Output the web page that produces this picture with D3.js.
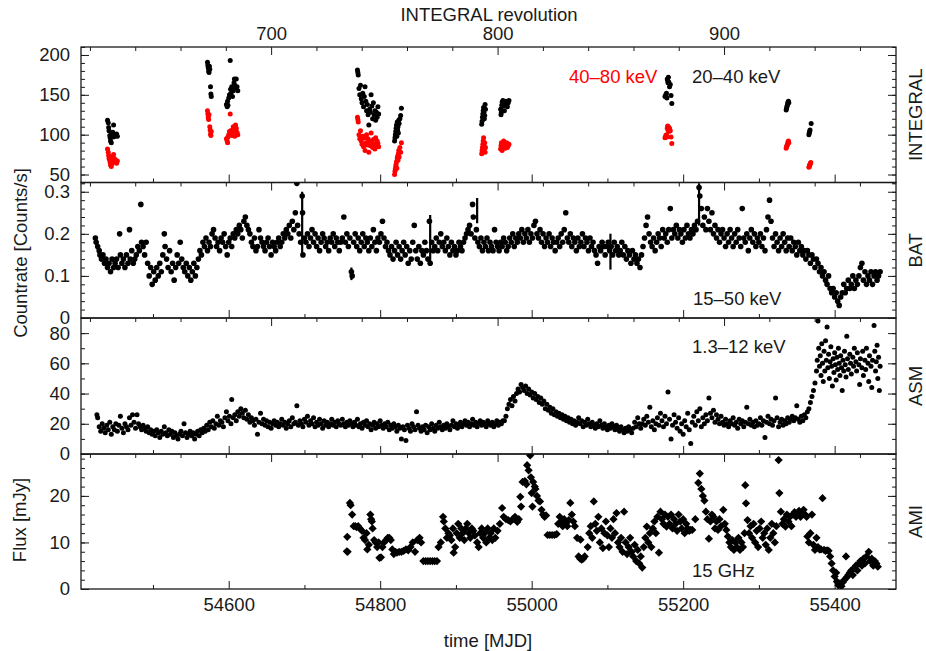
<!DOCTYPE html>
<html><head><meta charset="utf-8">
<script src="https://cdn.jsdelivr.net/npm/d3@7"></script>
<style>body{margin:0;background:#fff}text{font-family:"Liberation Sans",Arial,Helvetica,sans-serif}</style>
</head><body><svg id="c" width="926" height="651"></svg>
<script>
// ---------------- DATA ----------------
// INTEGRAL 20-40 keV (black) [MJD, counts/s]
const integralSoft = [[54440,118],[54441,115],[54441.5,109],[54442,105],[54443,99],[54443.5,96],[54444,92],[54445,90],[54446,100],[54447,103],[54447.5,97],[54448,112],[54449,100],[54450,98],[54451,99],[54452,101],[54453,98],
[54572,191],[54572.5,187],[54573,184],[54573.5,180],[54574,178],[54574.5,186],[54575,182],[54576,160],[54576.5,151],[54577,148],
[54597,138],[54598,135],[54598.5,142],[54599,137],[54600,146],[54601,150],[54602,193],[54602.5,157],[54603,152],[54604,160],[54605,148],[54606,155],[54607,165],[54607.5,170],[54608,162],[54609,158],[54610,170],[54611,160],[54612,155],
[54770,181],[54770.5,178],[54771,175],[54772,158],[54773,150],[54774,162],[54775,145],[54776,140],[54777,152],[54778,135],[54779,148],[54780,160],[54781,142],[54782,130],[54783,138],[54784,125],[54785,112],[54786,132],[54787,128],[54788,150],[54789,136],[54790,120],[54791,140],[54792,125],[54793,130],[54794,118],[54795,128],[54796,122],[54797,135],[54798,126],
[54819,92],[54819.5,96],[54820,100],[54820.5,104],[54821,108],[54821.5,112],[54822,98],[54822.5,116],[54823,106],[54823.5,110],[54824,102],[54824.5,118],[54825,114],[54826,120],[54827,124],[54828,133],
[54934,113],[54934.5,117],[54935,122],[54935.5,126],[54936,130],[54936.5,134],[54937,128],[54937.5,120],[54938,124],[54938.5,138],[54939,132],
[54959,132],[54959.5,125],[54960,128],[54960.5,137],[54961,141],[54962,143],[54963,136],[54964,130],[54965,138],[54966,142],[54967,139],[54968,135],[54969,140],[54970,143],
[55176,148],[55177,150],[55178,152],[55178.5,146],[55179,170],[55179.5,168],[55180,165],[55180.5,172],[55181,166],[55182,160],[55183,163],[55184,149],[55185,139],
[55336,131],[55336.5,133],[55337,135],[55337.5,137],[55338,139],[55338.5,141],[55339,142],[55339.5,140],
[55366,100],[55366.5,102],[55367,104],[55367.5,106],[55369,114]];
// INTEGRAL 40-80 keV (red)
const integralHard = [[54440,82],[54441,78],[54441.5,74],[54442,70],[54443,68],[54443.5,65],[54444,62],[54445,60],[54446,66],[54447,68],[54448,75],[54449,70],[54450,66],[54451,68],[54452,64],[54453,67],[54444.5,72],[54446.5,64],
[54572,130],[54572.5,126],[54573,122],[54573.5,119],[54574,125],[54575,110],[54575.5,106],[54576,101],[54576.5,99],[54577,104],
[54597,95],[54598,92],[54598.5,90],[54599,97],[54600,100],[54601,104],[54602,126],[54602.5,105],[54603,102],[54604,99],[54605,106],[54606,110],[54607,104],[54608,98],[54609,112],[54610,108],[54611,103],[54612,100],
[54770,122],[54770.5,119],[54771,116],[54772,100],[54773,95],[54774,105],[54775,92],[54776,88],[54777,98],[54778,85],[54779,96],[54780,80],[54781,90],[54782,100],[54783,87],[54784,95],[54785,78],[54786,92],[54787,86],[54788,102],[54789,90],[54790,84],[54791,94],[54792,88],[54793,82],[54794,96],[54795,86],[54796,92],[54797,89],[54798,85],
[54819,50],[54819.5,54],[54820,57],[54820.5,60],[54821,63],[54821.5,66],[54822,58],[54822.5,70],[54823,73],[54823.5,68],[54824,76],[54824.5,80],[54825,72],[54826,84],[54827,78],[54828,90],
[54934,76],[54934.5,80],[54935,84],[54935.5,88],[54936,92],[54936.5,96],[54937,86],[54937.5,82],[54938,90],[54938.5,78],[54939,84],
[54959,82],[54959.5,86],[54960,90],[54960.5,84],[54961,80],[54962,88],[54963,92],[54964,85],[54965,83],[54966,87],[54967,90],[54968,84],[54969,86],[54970,88],
[55176,96],[55177,99],[55178,100],[55178.5,97],[55179,108],[55179.5,111],[55180,106],[55180.5,110],[55181,104],[55182,108],[55183,105],[55184,97],[55185,89],
[55336,83],[55336.5,85],[55337,86],[55337.5,87],[55338,89],[55338.5,91],[55339,92],[55339.5,90],
[55366,59],[55366.5,60],[55367,62],[55367.5,63],[55368,64],[55368.5,65]];
// Swift/BAT 15-50 keV [MJD, counts/s]
const bat = [[54424,.19],[54425,.18],[54427,.17],[54429,.16],[54430,.15],[54432,.14],[54434,.15],[54436,.13],[54438,.14],[54440,.12],[54442,.13],[54444,.11],[54446,.14],[54448,.12],[54450,.13],[54452,.14],[54454,.12],[54456,.20],[54457,.15],[54459,.13],[54461,.14],[54463,.12],[54465,.15],[54467,.13],[54469,.21],[54470,.14],[54472,.16],[54474,.13],[54476,.14],[54478,.15],[54480,.17],
[54482,.16],[54484,.27],[54485,.18],[54487,.17],[54489,.15],[54491,.18],[54493,.13],[54495,.10],[54497,.12],[54499,.08],[54501,.11],[54503,.09],[54505,.12],[54507,.10],[54509,.13],[54511,.11],[54513,.15],[54515,.20],[54516,.17],[54518,.14],[54520,.12],[54522,.16],[54524,.11],[54526,.13],[54528,.09],[54530,.12],[54532,.15],[54534,.13],[54536,.18],[54538,.14],[54540,.12],[54542,.11],[54544,.13],[54546,.10],[54548,.12],[54550,.09],[54552,.11],[54554,.13],[54556,.10],[54558,.12],[54560,.14],
[54562,.16],[54564,.15],[54566,.18],[54568,.17],[54570,.19],[54572,.16],[54574,.18],[54576,.17],[54578,.20],[54580,.21],[54582,.19],[54584,.17],[54586,.18],[54588,.16],[54590,.19],[54592,.18],[54594,.20],[54596,.17],[54598,.15],[54600,.18],[54602,.19],[54604,.17],[54606,.20],[54608,.19],[54610,.21],[54612,.20],[54614,.22],[54616,.21],[54618,.19],[54620,.23],[54622,.24],[54624,.22],[54626,.21],[54628,.20],[54630,.18],[54632,.17],[54634,.19],[54636,.16],[54638,.17],[54640,.21],[54642,.19],[54644,.18],[54646,.17],[54648,.16],[54650,.18],[54652,.19],[54654,.17],[54656,.15],[54658,.18],[54660,.17],[54662,.16],[54664,.18],[54666,.19],[54668,.17],[54670,.18],[54672,.20],[54674,.19],[54676,.21],[54678,.20],[54680,.22],[54682,.19],[54684,.23],[54686,.21],[54688,.25],[54690,.32],[54691,.22],[54693,.20],[54695,.18],[54697,.29],[54697.5,.25],[54698,.15],[54700,.19],
[54702,.18],[54704,.20],[54706,.17],[54708,.19],[54710,.21],[54712,.18],[54714,.20],[54716,.17],[54718,.19],[54720,.16],[54722,.18],[54724,.20],[54726,.19],[54728,.17],[54730,.18],[54732,.16],[54734,.19],[54736,.18],[54738,.20],[54740,.17],[54742,.19],[54744,.18],[54746,.16],[54748,.18],[54750,.19],[54752,.24],[54754,.18],[54756,.20],[54758,.17],[54760,.19],[54762,.11],[54763,.10],[54765,.18],[54767,.20],[54769,.17],[54771,.19],[54773,.16],[54775,.18],[54777,.20],[54779,.17],[54781,.19],[54783,.18],[54785,.16],[54787,.19],[54789,.17],[54791,.21],[54793,.18],[54795,.16],[54797,.19],[54799,.18],
[54801,.20],[54803,.23],[54805,.19],[54807,.17],[54809,.18],[54811,.16],[54813,.15],[54815,.17],[54817,.14],[54819,.16],[54821,.18],[54823,.15],[54825,.17],[54827,.14],[54829,.16],[54831,.18],[54833,.15],[54835,.17],[54837,.13],[54839,.16],[54841,.14],[54843,.18],[54845,.22],[54847,.16],[54849,.14],[54851,.17],[54853,.13],[54855,.16],[54857,.15],[54859,.18],[54861,.16],[54863,.14],[54865,.23],[54866,.13],[54868,.18],[54870,.16],[54872,.17],[54874,.19],[54876,.16],[54878,.18],[54880,.20],[54882,.17],[54884,.18],[54886,.16],[54888,.19],[54890,.17],[54892,.15],[54894,.18],[54896,.16],[54898,.17],[54900,.15],[54902,.16],[54904,.18],[54906,.17],[54908,.16],[54910,.18],[54912,.19],[54914,.20],[54916,.21],[54918,.22],[54920,.20],
[54922,.27],[54923,.24],[54925,.19],[54927,.21],[54929,.18],[54931,.17],[54933,.19],[54935,.16],[54937,.18],[54939,.17],[54941,.19],[54943,.16],[54945,.18],[54947,.17],[54949,.16],[54951,.21],[54953,.18],[54955,.17],[54957,.16],[54959,.18],[54961,.17],[54963,.19],[54965,.18],[54967,.16],[54969,.17],[54971,.19],[54973,.18],[54975,.20],[54977,.17],[54979,.19],[54981,.18],[54983,.20],[54985,.19],[54987,.21],[54989,.18],[54991,.20],[54993,.19],[54995,.21],[54997,.18],[54999,.20],
[55001,.19],[55003,.22],[55005,.23],[55007,.20],[55009,.19],[55011,.21],[55013,.18],[55015,.20],[55017,.17],[55019,.19],[55021,.18],[55023,.20],[55025,.17],[55027,.19],[55029,.18],[55031,.16],[55033,.18],[55035,.19],[55037,.17],[55039,.20],[55041,.18],[55043,.21],[55045,.25],[55047,.19],[55049,.18],[55051,.20],[55053,.17],[55055,.19],[55057,.18],[55059,.16],[55061,.19],[55063,.17],[55065,.18],[55067,.20],[55069,.17],[55071,.19],[55073,.18],[55075,.16],[55077,.19],[55079,.17],[55081,.18],[55083,.16],[55085,.15],[55087,.13],[55089,.17],[55091,.16],[55093,.18],[55095,.17],[55097,.15],[55099,.17],
[55101,.18],[55103,.16],[55105,.17],[55107,.15],[55109,.18],[55111,.16],[55113,.17],[55115,.15],[55117,.16],[55119,.18],[55121,.15],[55123,.17],[55125,.14],[55127,.16],[55129,.15],[55131,.13],[55133,.16],[55135,.14],[55137,.15],[55139,.13],[55141,.14],[55143,.12],[55145,.15],[55147,.17],[55149,.19],[55151,.22],[55153,.24],[55155,.20],[55157,.18],[55159,.17],[55161,.19],[55163,.16],[55165,.18],[55167,.20],[55169,.19],[55171,.17],[55173,.21],[55175,.19],[55177,.20],[55179,.18],[55181,.21],[55183,.26],[55185,.19],[55187,.21],[55189,.20],[55191,.22],[55193,.19],[55195,.21],[55197,.20],[55199,.18],
[55201,.21],[55203,.19],[55205,.22],[55207,.20],[55209,.19],[55211,.21],[55213,.20],[55215,.22],[55217,.21],[55219,.23],[55221,.31],[55222,.29],[55224,.26],[55226,.22],[55228,.24],[55230,.21],[55232,.26],[55234,.23],[55236,.21],[55238,.25],[55240,.20],[55242,.22],[55244,.19],[55246,.21],[55248,.18],[55250,.20],[55252,.21],[55254,.19],[55256,.17],[55258,.20],[55260,.18],[55262,.21],[55264,.19],[55266,.17],[55268,.20],[55270,.18],[55272,.21],[55274,.19],[55276,.17],[55278,.26],[55280,.19],[55282,.18],[55284,.20],[55286,.16],[55288,.19],[55290,.21],[55292,.18],[55294,.20],[55296,.17],[55298,.19],
[55300,.18],[55302,.20],[55304,.17],[55306,.19],[55308,.16],[55310,.21],[55312,.24],[55314,.28],[55316,.23],[55318,.19],[55320,.17],[55322,.20],[55324,.18],[55326,.16],[55328,.19],[55330,.17],[55332,.20],[55334,.18],[55336,.16],[55338,.19],[55340,.17],[55342,.19],[55344,.16],[55346,.18],[55348,.17],[55350,.15],[55352,.18],[55354,.16],[55356,.17],[55358,.15],[55360,.16],[55362,.14],[55364,.16],[55366,.15],[55368,.13],[55370,.15],[55372,.14],[55374,.12],[55376,.14],[55378,.13],[55380,.11],[55382,.12],[55384,.10],[55386,.11],[55388,.09],[55390,.08],[55392,.10],[55394,.07],[55396,.06],[55398,.07],[55400,.05],[55402,.06],[55404,.04],[55406,.03],[55408,.05],
[55410,.06],[55412,.08],[55414,.06],[55416,.07],[55418,.09],[55420,.07],[55422,.08],[55424,.10],[55426,.07],[55428,.09],[55430,.08],[55432,.10],[55434,.12],[55436,.13],[55438,.09],[55440,.11],[55442,.08],[55444,.10],[55446,.09],[55448,.11],[55450,.08],[55452,.10],[55454,.11],[55456,.09],[55458,.10],[55460,.11]];
// BAT points with long error bars [MJD, low, high]
const batErrorBars = [[54697,0.15,0.30],[54866,0.13,0.245],[54928,0.225,0.285],[55104,0.115,0.20],[55221,0.22,0.32],[54762,0.09,0.12]];
// RXTE/ASM 1.3-12 keV [MJD, counts/s]
const asm = [[54426,26],[54427,24],[54429,18],[54431,15],[54433,20],[54435,17],[54437,14],[54439,19],[54441,16],[54443,21],[54445,13],[54447,18],[54449,16],[54451,20],[54453,15],[54455,19],[54457,25],[54459,17],[54461,14],[54463,20],[54465,18],[54467,16],[54469,24],[54471,19],[54473,26],[54475,21],[54477,17],[54479,26],[54481,20],[54483,18],[54485,16],
[54487,19],[54489,17],[54491,15],[54493,18],[54495,14],[54497,16],[54499,13],[54501,15],[54503,12],[54505,16],[54507,14],[54509,11],[54511,15],[54513,13],[54515,18],[54517,14],[54519,12],[54521,16],[54523,13],[54525,15],[54527,11],[54529,14],[54531,12],[54533,10],[54535,13],[54537,15],[54539,12],[54541,20],[54543,14],[54545,11],[54547,13],[54549,15],
[54551,12],[54553,14],[54555,10],[54557,13],[54559,15],[54561,12],[54563,16],[54565,14],[54567,17],[54569,15],[54571,19],[54573,16],[54575,21],[54577,18],[54579,22],[54581,17],[54583,20],[54585,25],[54587,19],[54589,22],[54591,21],[54593,18],[54595,24],[54597,28],[54599,22],
[54601,25],[54603,20],[54604,36],[54606,24],[54608,26],[54610,22],[54612,28],[54614,25],[54616,30],[54618,27],[54620,24],[54622,29],[54624,23],[54626,26],[54628,21],[54630,24],[54632,22],[54634,19],[54636,23],[54638,13],[54640,21],[54642,27],[54644,20],[54646,23],[54648,19],[54650,22],[54652,18],[54654,21],[54656,17],[54658,20],
[54660,22],[54662,19],[54664,21],[54666,18],[54668,20],[54670,23],[54672,19],[54674,21],[54676,17],[54678,20],[54680,22],[54682,18],[54684,24],[54686,20],[54688,21],[54690,32],[54692,19],[54694,22],[54696,20],[54698,18],[54700,23],[54702,21],[54704,25],[54706,19],[54708,22],[54710,20],[54712,24],[54714,18],[54716,21],[54718,19],[54720,23],[54722,20],[54724,17],[54726,22],[54728,19],[54730,21],[54732,18],[54734,20],[54736,23],[54738,19],[54740,21],[54742,18],[54744,22],[54746,20],[54748,19],[54750,23],[54752,20],[54754,18],[54756,21],[54758,19],
[54760,22],[54762,20],[54764,18],[54766,21],[54768,19],[54770,23],[54772,18],[54774,20],[54776,17],[54778,21],[54780,19],[54782,22],[54784,18],[54786,20],[54788,16],[54790,19],[54792,21],[54794,17],[54796,20],[54798,18],[54800,22],[54802,19],[54804,17],[54806,20],[54808,18],[54810,21],[54812,16],[54814,19],[54816,17],[54818,20],[54820,18],[54822,15],[54824,19],[54826,17],[54828,10],[54830,18],[54832,16],[54834,9],[54836,19],[54838,17],[54840,15],[54842,20],[54844,18],[54846,16],[54848,28],[54850,19],[54852,17],[54854,15],[54856,18],[54858,16],[54860,19],[54862,14],[54864,18],[54866,16],[54868,20],[54870,17],[54872,15],[54874,19],[54876,17],[54878,21],[54880,18],[54882,16],[54884,19],[54886,17],[54888,20],[54890,18],[54892,16],[54894,19],[54896,22],[54898,18],[54900,20],[54902,17],[54904,19],[54906,21],[54908,18],
[54910,20],[54912,22],[54914,19],[54916,21],[54918,18],[54920,20],[54922,23],[54924,19],[54926,21],[54928,18],[54930,20],[54932,22],[54934,19],[54936,21],[54938,20],[54940,18],[54942,22],[54944,20],[54946,19],[54948,21],[54950,18],[54952,20],[54954,22],[54956,19],[54958,21],[54960,20],[54962,22],[54964,22],[54966,25],[54968,30],[54970,33],[54972,36],[54974,32],[54976,38],[54978,35],[54980,40],[54982,43],[54984,41],[54986,46],[54988,44],[54990,42],[54992,45],[54994,40],[54996,43],[54998,39],[55000,41],[55002,37],[55004,40],[55006,36],[55008,38],[55010,34],[55012,37],[55014,33],[55016,35],[55018,30],[55020,33],[55022,29],[55024,31],[55026,27],[55028,30],[55030,26],[55032,28],[55034,25],[55036,27],[55038,24],[55040,26],[55042,23],[55044,25],[55046,22],[55048,24],[55050,21],
[55052,23],[55054,20],[55056,22],[55058,19],[55060,21],[55062,24],[55064,20],[55066,22],[55068,18],[55070,21],[55072,19],[55074,23],[55076,20],[55078,18],[55080,21],[55082,19],[55084,17],[55086,20],[55088,18],[55090,22],[55092,19],[55094,17],[55096,20],[55098,18],[55100,16],[55102,19],[55104,17],[55106,20],[55108,18],[55110,16],[55112,19],[55114,17],[55116,15],[55118,18],[55120,16],[55122,14],[55124,17],[55126,15],[55128,18],[55130,16],[55132,14],[55134,17],[55136,21],[55138,18],[55140,24],[55142,20],[55144,17],
[55146,20],[55148,23],[55150,19],[55152,25],[55154,21],[55156,31],[55158,18],[55160,22],[55162,16],[55164,20],[55166,24],[55168,19],[55170,27],[55172,22],[55174,18],[55176,25],[55178,20],[55180,41],[55182,23],[55184,10],[55186,19],[55188,26],[55190,21],[55192,17],[55194,24],[55196,15],[55198,20],[55200,13],[55202,22],[55204,18],[55206,27],[55208,16],[55210,7],[55212,21],[55214,25],[55216,19],[55218,28],[55220,22],[55222,30],[55224,18],[55226,24],[55228,20],[55230,26],[55232,22],[55234,37],[55236,27],[55238,24],[55240,29],[55242,21],[55244,26],[55246,23],[55248,20],[55250,25],
[55252,21],[55254,19],[55256,23],[55258,20],[55260,18],[55262,22],[55264,20],[55266,24],[55268,19],[55270,21],[55272,17],[55274,23],[55276,20],[55278,22],[55280,18],[55282,21],[55284,31],[55286,20],[55288,23],[55290,19],[55292,21],[55294,18],[55296,22],[55298,19],[55300,20],[55302,24],[55304,19],[55306,22],[55308,11],[55310,21],[55312,25],[55314,20],[55316,23],[55318,19],[55320,22],[55322,37],[55324,24],[55326,18],[55328,21],[55330,23],[55332,19],[55334,22],[55336,20],[55338,24],[55340,21],[55342,23],[55344,25],[55346,22],[55348,24],[55350,32],[55352,23],[55354,21],[55356,25],[55358,22],[55360,26],[55362,24],[55364,28],
[55366,30],[55368,34],[55370,38],[55372,42],[55374,47],[55376,55],[55377,62],
[55378,88],[55379,70],[55380,58],[55381,65],[55382,52],[55383,73],[55384,60],[55385,48],[55386,68],[55387,55],[55388,75],[55389,62],[55390,84],[55391,57],[55392,66],[55393,50],[55394,61],[55395,71],[55396,58],[55397,45],[55398,63],[55399,54],[55400,67],[55401,59],[55402,49],[55403,64],[55404,56],[55405,70],[55406,60],[55407,52],[55408,65],[55409,57],[55410,42],[55411,62],[55412,55],[55413,68],[55414,59],[55415,51],[55416,78],[55417,63],[55418,56],[55420,66],[55421,60],[55422,53],[55424,64],[55425,58],[55426,70],[55428,61],[55429,55],[55430,67],[55432,59],[55433,46],[55434,63],[55436,57],[55437,68],[55438,52],[55440,62],[55441,56],[55442,70],[55444,60],[55445,48],[55446,65],[55448,58],[55449,44],[55450,62],[55452,85],[55453,68],[55454,55],[55455,61],[55456,72],[55457,50],[55458,64],[55459,42],[55460,58]];
// AMI 15 GHz [MJD, mJy]
const ami = [[54756,8.1],[54756.5,11.2],[54757,8],[54760,18.5],[54761,18],[54763,16],[54765,13.5],[54767,13.5],[54769,13.3],[54771,13.5],[54773,13],[54776,12.5],[54778,11],[54780,10.5],[54782,12],[54783,8.5],[54785,9.5],[54787,16],[54788,15],[54789,14.5],[54790,13],[54792,10.5],[54794,10],[54796,9],[54798,10],[54799,6.7],[54801,6.8],[54803,9],[54805,10],[54808,10.5],[54810,11],[54812,11],[54814,10.5],[54816,8.5],[54818,7.5],[54820,8],[54822,7.8],[54825,8],[54828,8],[54831,8.2],[54834,8.5],[54837,8.3],[54840,9],[54843,10],[54846,8],[54849,10.5],[54852,11],[54854,10],[54857,6],[54860,6],[54863,6],[54866,6],[54869,6],[54872,6],[54875,6],[54877,9],[54880,10],[54883,15.5],[54884,14.5],[54886,13],[54888,11],[54890,12],[54892,11.5],[54894,10.5],[54896,13],[54897,7.8],[54899,9],[54901,12],[54903,14],[54905,11],[54907,13],[54909,12],[54911,10.5],[54913,13],[54915,14],[54917,12],[54919,11],[54921,13],[54923,12.5],[54925,11.5],[54928,10],[54930,9],[54932,12],[54934,13],[54936,11],[54938,12],[54940,10],[54942,13],[54944,11],[54946,12],[54948,10.5],[54950,13],[54952,11],[54955,12.5],[54958,14],[54961,17.4],[54963,15.5],[54966,15],[54969,14.8],[54972,14.5],[54975,15],[54978,15.5],[54981,14.4],[54983,15],[54985,19.8],[54986,17.7],[54988,23],[54991,23.2],[54993,22.5],[54994,26.6],[54996,25.5],[54998,28.7],[54999,24],[55000,20.6],[55001,17.7],[55002,23],[55004,22],[55005,21.5],[55007,20],[55009,19],[55011,18.8],[55013,17],[55015,16],[55017,15.5],[55019,15.8],[55021,11.6],[55024,11.6],[55027,11.6],[55030,11.6],[55033,11.8],[55035,14],[55037,15.5],[55039,14.5],[55041,13.5],[55043,15],[55045,14],[55047,13.5],[55049,14.8],[55051,18.5],[55053,16],[55055,14.5],[55057,13.5],[55060,11],[55062,7],[55064,6.5],[55066,6.3],[55068,6.5],[55070,7],[55064.5,10.6],[55074,9],[55076,12],[55078,13.5],[55080,11],[55082,18.8],[55084,14],[55086,12.5],[55088,15.5],[55090,10],[55092,13],[55094,8.8],[55096,12],[55098,14.5],[55100,11.5],[55102,9],[55104,13],[55106,11],[55108,15],[55110,12],[55112,16.3],[55114,10],[55116,9],[55118,11],[55120,8],[55122,16.6],[55124,10],[55126,7.5],[55128,9],[55130,11],[55132,8],[55134,7],[55136,9.5],[55138,6],[55140,8.4],[55142,5.5],[55144,7],[55146,4.6],[55148,9],[55150,11],[55152,13.4],[55154,10],[55156,12],[55158,9],[55160,13],[55162,14.5],[55164,12],[55166,15.5],[55168,7.8],[55170,16.6],[55172,15],[55174,14],[55176,16],[55178,13.4],[55180,15.5],[55182,14],[55184,16],[55186,13],[55188,15],[55190,14],[55192,12.5],[55194,16],[55196,14.5],[55198,13],[55200,15],[55202,12],[55204,14],[55206,13],[55208,12.5],[55210,12.7],[55212,12.7],[55216,15],[55220,22.8],[55222,24.8],[55224,21.5],[55226,20],[55228,19],[55230,16.6],[55232,15],[55234,10.8],[55236,14.5],[55238,16],[55240,15.5],[55242,13],[55244,14.5],[55246,12.7],[55248,15],[55250,13.5],[55253,17],[55255,14],[55257,12.7],[55259,11.3],[55261,10],[55263,9],[55265,10.5],[55267,8.4],[55269,10],[55271,9],[55273,11],[55275,8.4],[55277,10],[55279,9],[55281,12],[55282,22.3],[55283,18.4],[55285,14.8],[55287,12],[55289,13.5],[55291,11],[55293,14],[55295,10],[55297,12.5],[55299,9],[55301,13],[55303,14.5],[55305,11],[55307,12],[55309,9.5],[55311,13],[55313,8.4],[55315,11],[55317,14],[55319,12],[55321,10],[55323,13.5],[55326,27.7],[55327,20.6],[55329,16.6],[55331,14],[55333,15],[55335,13.4],[55337,16],[55339,14.5],[55341,15.5],[55343,13.5],[55345,16],[55347,16.5],[55349,15.5],[55351,16],[55353,16.8],[55355,15.5],[55357,16],[55359,17],[55361,16],[55363,15.5],[55364,11.3],[55366,10],[55368,12],[55370,16],[55372,9.5],[55374,8.4],[55376,11],[55378,9],[55380,8.5],[55382,8.5],[55384,19.5],[55386,8.4],[55388,8.2],[55390,8.3],[55392,8.2],[55394,7],[55396,5.5],[55398,4],[55400,2.7],[55402,3.5],[55403,1.6],[55405,0.8],[55407,1.2],[55409,0.6],[55411,1.5],[55413,2],[55415,7],[55416,2.5],[55418,3],[55420,3.5],[55422,4],[55424,3],[55426,4.5],[55428,5],[55430,4],[55432,5.5],[55434,6],[55436,5],[55438,6.5],[55440,5.5],[55442,7],[55445,8],[55447,6],[55449,6.5],[55451,5],[55453,6],[55455,5.5],[55457,4.8]];

// axis ticks / labels
const mjdMajorTicks = [54600,54800,55000,55200,55400];
const mjdMinorTicks = [54500,54700,54900,55100,55300];
const revMajorTicks = [700,800,900];
const revMinorTicks = [620,640,660,680,720,740,760,780,820,840,860,880,920,940,960];
const revReference = [[54656,700],[55254,900]]; // [MJD, revolution] pairs
const integralTicks = [50,100,150,200];
const batTicks = [0,0.1,0.2,0.3];
const asmTicks = [0,20,40,60,80];
const amiTicks = [0,10,20];
const panelNames = ["INTEGRAL","BAT","ASM","AMI"];

// ---------------- LAYOUT ----------------
const svg = d3.select("#c");
const L = 81, R = 896;
const bounds = [47,182.5,318,454,589];
const FS = "18.5px", INK = "#1a1a1a";
const x = d3.scaleLinear().domain([54405,55481]).range([L,R]);
const mjdToRev = d3.scaleLinear().domain(revReference.map(d=>d[0])).range(revReference.map(d=>d[1]));
const rev = d3.scaleLinear().domain([mjdToRev(54405), mjdToRev(55481)]).range([L,R]);

const panels = [
  {domain:[40,210], major:integralTicks, minor:d3.range(40,211,10), fmt:d=>d},
  {domain:[0,0.322], major:batTicks, minor:d3.range(0,0.33,0.02), fmt:d=>d===0?"0":d.toFixed(1)},
  {domain:[0,90], major:asmTicks, minor:d3.range(0,91,10), fmt:d=>d},
  {domain:[0,29], major:amiTicks, minor:d3.range(0,30,2), fmt:d=>d}
];

function styleAxis(g){
  g.select(".domain").remove();
  g.selectAll("line").attr("stroke",INK).attr("stroke-width",1);
  g.selectAll("text").attr("font-size",FS).attr("font-family",'"Liberation Sans",Arial,sans-serif').attr("fill",INK);
}

panels.forEach((p,i)=>{
  const top = bounds[i], bot = bounds[i+1];
  p.y = d3.scaleLinear().domain(p.domain).range([bot,top]);
  const clipId = "clip"+i;
  svg.append("clipPath").attr("id",clipId).append("rect").attr("x",L).attr("y",top).attr("width",R-L).attr("height",bot-top);
  svg.append("g").attr("transform",`translate(${L},0)`)
    .call(d3.axisLeft(p.y).tickValues(p.minor).tickSize(-4).tickFormat("")).call(styleAxis);
  svg.append("g").attr("transform",`translate(${L},0)`)
    .call(d3.axisLeft(p.y).tickValues(p.major).tickSizeInner(-8).tickSizeOuter(0).tickPadding(11).tickFormat(p.fmt)).call(styleAxis);
  svg.append("g").attr("transform",`translate(${R},0)`)
    .call(d3.axisRight(p.y).tickValues(p.minor).tickSize(-4).tickFormat("")).call(styleAxis);
  svg.append("g").attr("transform",`translate(${R},0)`)
    .call(d3.axisRight(p.y).tickValues(p.major).tickSize(-8).tickFormat("")).call(styleAxis);
  svg.append("g").attr("transform",`translate(0,${bot})`)
    .call(d3.axisBottom(x).tickValues(mjdMinorTicks).tickSize(-4).tickFormat("")).call(styleAxis);
  svg.append("g").attr("transform",`translate(0,${bot})`)
    .call(d3.axisBottom(x).tickValues(mjdMajorTicks).tickSizeInner(-8).tickSizeOuter(0).tickPadding(9)
      .tickFormat(i===3?d3.format("d"):"")).call(styleAxis);
  svg.append("g").attr("transform",`translate(0,${top})`)
    .call(d3.axisTop(rev).tickValues(revMinorTicks).tickSize(-4).tickFormat("")).call(styleAxis);
  svg.append("g").attr("transform",`translate(0,${top})`)
    .call(d3.axisTop(rev).tickValues(revMajorTicks).tickSizeInner(-8).tickSizeOuter(0).tickPadding(7)
      .tickFormat(i===0?d3.format("d"):"")).call(styleAxis);
  svg.append("rect").attr("x",L).attr("y",top).attr("width",R-L).attr("height",bot-top)
    .attr("fill","none").attr("stroke",INK).attr("stroke-width",1.3);
  svg.append("text").attr("transform",`translate(915,${(top+bot)/2}) rotate(-90)`)
    .attr("text-anchor","middle").attr("dominant-baseline","central").attr("font-size",FS).attr("fill",INK).text(panelNames[i]);
  p.layer = svg.append("g").attr("clip-path",`url(#${clipId})`);
});

// ---------------- MARKS ----------------
function dots(layer, data, y, r, color){
  layer.selectAll(null).data(data).enter().append("circle")
    .attr("cx",d=>x(d[0])).attr("cy",d=>y(d[1])).attr("r",r).attr("fill",color);
}
panels[1].layer.selectAll(null).data(batErrorBars).enter().append("line")
  .attr("x1",d=>x(d[0])).attr("x2",d=>x(d[0])).attr("y1",d=>panels[1].y(d[1])).attr("y2",d=>panels[1].y(d[2]))
  .attr("stroke","#000").attr("stroke-width",2.2);
dots(panels[0].layer, integralSoft, panels[0].y, 2.5, "#000");
dots(panels[0].layer, integralHard, panels[0].y, 2.5, "#ff0000");
dots(panels[1].layer, bat, panels[1].y, 2.8, "#000");
dots(panels[2].layer, asm, panels[2].y, 2.5, "#000");
const diamond = d3.symbol().type(d3.symbolSquare).size(34);
panels[3].layer.selectAll(null).data(ami).enter().append("path")
  .attr("d",diamond).attr("fill","#000")
  .attr("transform",d=>`translate(${x(d[0])},${panels[3].y(d[1])}) rotate(45)`);

// ---------------- TEXT ----------------
function label(t,xp,yp,color,anchor){
  svg.append("text").attr("x",xp).attr("y",yp).attr("font-size",FS).attr("fill",color||INK)
    .attr("text-anchor",anchor||"start").text(t);
}
label("40\u201380 keV",569,83,"#ff0000");
label("20\u201340 keV",692,83);
label("15\u201350 keV",693,305);
label("1.3\u201312 keV",692,353);
label("15 GHz",692,577);
label("INTEGRAL revolution",489,21,INK,"middle");
label("time [MJD]",488,647,INK,"middle");
svg.append("text").attr("transform","translate(20,253) rotate(-90)").attr("text-anchor","middle")
  .attr("dominant-baseline","central").attr("font-size",FS).attr("fill",INK).text("Countrate [Counts/s]");
svg.append("text").attr("transform","translate(19,520) rotate(-90)").attr("text-anchor","middle")
  .attr("dominant-baseline","central").attr("font-size",FS).attr("fill",INK).text("Flux [mJy]");
</script></body></html>
